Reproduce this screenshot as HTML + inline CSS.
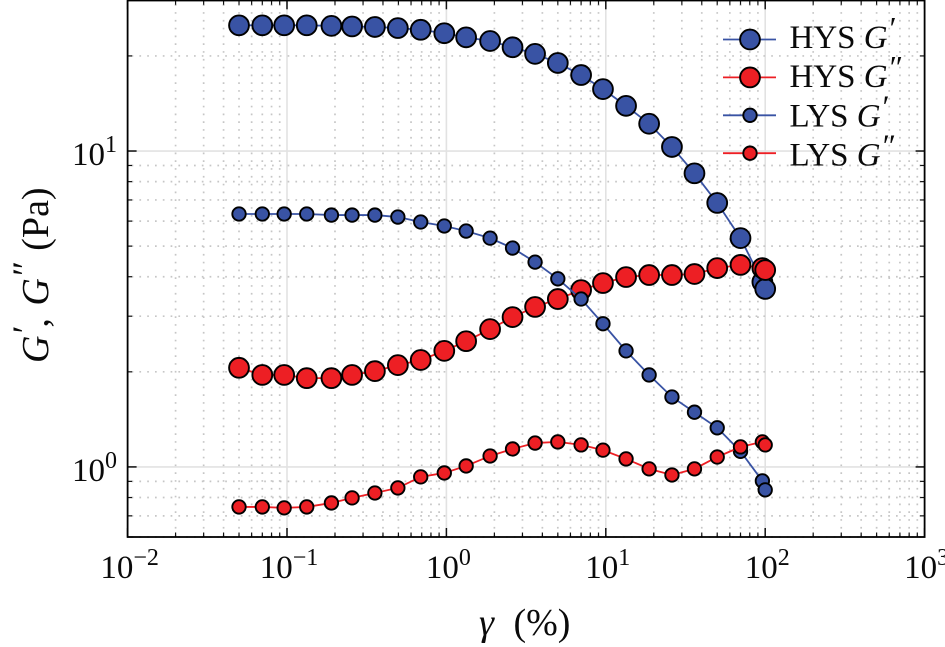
<!DOCTYPE html>
<html>
<head>
<meta charset="utf-8">
<title>Strain sweep chart</title>
<style>
html,body{margin:0;padding:0;background:#fff;width:945px;height:647px;overflow:hidden}
svg{display:block;font-family:"Liberation Serif",serif;fill:#000}
text{fill:#0a0a0a}
</style>
</head>
<body>
<svg id="chart" xmlns="http://www.w3.org/2000/svg" width="945" height="647" viewBox="0 0 945 647">
  <g id="grid"></g>
  <g id="series"></g>
  <g id="ticks"></g>
  <rect x="127.6" y="0.5" width="797" height="536.5" fill="none" stroke="#000" stroke-width="1.8"/>
  <g id="tick-labels"></g>
  <text transform="translate(48,363) rotate(-90)" font-size="38" word-spacing="3"><tspan font-style="italic">G</tspan><tspan font-style="italic" font-size="36" dy="-11">′</tspan><tspan dy="11">, </tspan><tspan font-style="italic">G</tspan><tspan font-style="italic" font-size="36" dy="-11">″</tspan><tspan dy="11"> (Pa)</tspan></text>
  <text x="479" y="635" font-size="38" word-spacing="10"><tspan font-style="italic">γ</tspan> (%)</text>
  <g id="legend"></g>
</svg>
<script>
const xDomain = [0.01, 1000];
const yDomain = [0.6, 30];
const xTickExponents = ["−2", "−1", "0", "1", "2", "3"];
const xTickDecades = [0.01, 0.1, 1, 10, 100, 1000];
const yTickExponents = ["0", "1"];
const yTickDecades = [1, 10];
const minorMultipliers = [2, 3, 4, 5, 6, 7, 8, 9];
const yMinorExtra = [0.6, 0.7, 0.8, 0.9];
const gamma = [0.05, 0.07, 0.096, 0.133, 0.19, 0.256, 0.356, 0.496, 0.69, 0.97, 1.33, 1.88, 2.6, 3.6, 5.0, 7.0, 9.6, 13.4, 18.7, 26, 36, 50, 70, 96, 100];
const hysGp = [25.0, 25.0, 25.0, 25.0, 24.9, 24.8, 24.7, 24.5, 24.2, 23.6, 22.9, 22.3, 21.3, 20.3, 19.0, 17.4, 15.7, 13.9, 12.2, 10.3, 8.5, 6.85, 5.3, 3.85, 3.66];
const hysGpp = [2.06, 1.955, 1.955, 1.91, 1.91, 1.955, 2.01, 2.10, 2.18, 2.33, 2.50, 2.73, 2.98, 3.21, 3.40, 3.63, 3.82, 3.99, 4.05, 4.05, 4.08, 4.26, 4.36, 4.26, 4.20];
const lysGp = [6.32, 6.32, 6.32, 6.32, 6.27, 6.27, 6.27, 6.18, 5.96, 5.79, 5.58, 5.30, 4.93, 4.45, 3.94, 3.40, 2.84, 2.33, 1.955, 1.665, 1.49, 1.33, 1.12, 0.903, 0.846];
const lysGpp = [0.747, 0.747, 0.742, 0.747, 0.769, 0.798, 0.827, 0.858, 0.930, 0.957, 1.007, 1.083, 1.14, 1.19, 1.20, 1.174, 1.13, 1.06, 0.986, 0.943, 0.986, 1.075, 1.157, 1.20, 1.174];

const NS = 'http://www.w3.org/2000/svg';
const L = 127.6, R = 924.6, T = 0.3, B = 537;
const BLUE = '#3953a4', RED = '#ed1f24';

function xPos(v) {
  return L + (Math.log10(v) - Math.log10(xDomain[0])) / (Math.log10(xDomain[1]) - Math.log10(xDomain[0])) * (R - L);
}
function yPos(v) {
  return B - (Math.log10(v) - Math.log10(yDomain[0])) / (Math.log10(yDomain[1]) - Math.log10(yDomain[0])) * (B - T);
}
function make(tag, attrs, parent) {
  const el = document.createElementNS(NS, tag);
  for (const k in attrs) el.setAttribute(k, attrs[k]);
  parent.appendChild(el);
  return el;
}

const gridG = document.getElementById('grid');
const ticksG = document.getElementById('ticks');
const labelsG = document.getElementById('tick-labels');
const seriesG = document.getElementById('series');
const legendG = document.getElementById('legend');

function minorLine(x1, y1, x2, y2) {
  const ln = make('line', {x1: x1, y1: y1, x2: x2, y2: y2, stroke: '#c6c6c6', 'stroke-width': 1.7, 'stroke-dasharray': '1.7 6.1'}, gridG);
  
  
}
function majorLine(x1, y1, x2, y2) {
  const ln = make('line', {x1: x1, y1: y1, x2: x2, y2: y2, stroke: '#e2e2e2', 'stroke-width': 1.6}, gridG);
  
  
}
function tick(x1, y1, x2, y2, sw) {
  const ln = make('line', {x1: x1, y1: y1, x2: x2, y2: y2, stroke: '#111', 'stroke-width': sw}, ticksG);
  
  
}
function tickLabel(x, y, anchor, exp, name) {
  const t = make('text', {x: x, y: y, 'font-size': 33, 'text-anchor': anchor}, labelsG);
  
  
  const a = make('tspan', {}, t);
  a.textContent = '10';
  const b = make('tspan', {'font-size': 24, dy: -13}, t);
  b.textContent = exp;
}

xTickDecades.forEach(function (d, i) {
  const x = xPos(d);
  if (i > 0 && i < xTickDecades.length - 1) majorLine(x, T, x, B);
  tick(x, B, x, B - 9, 1.5);
  tick(x, T, x, T + 9, 1.5);
  tickLabel(x + 2, 578, 'middle', xTickExponents[i], 'x-tick-label');
  if (i < xTickDecades.length - 1) {
    minorMultipliers.forEach(function (m) {
      const xm = xPos(d * m);
      minorLine(xm, T + 4, xm, B);
      tick(xm, B, xm, B - 4.5, 1.2);
      tick(xm, T, xm, T + 4.5, 1.2);
    });
  }
});

yMinorExtra.concat(minorMultipliers, minorMultipliers.map(function (m) { return m * 10; })).forEach(function (v) {
  if (v >= yDomain[1]) return;
  const y = yPos(v);
  minorLine(L + 4, y, R, y);
  tick(L, y, L + 4.5, y, 1.2);
  tick(R, y, R - 4.5, y, 1.2);
});
yTickDecades.forEach(function (d, i) {
  const y = yPos(d);
  majorLine(L, y, R, y);
  tick(L, y, L + 9, y, 1.5);
  tick(R, y, R - 9, y, 1.5);
  tickLabel(72, y + 14, 'start', yTickExponents[i], 'y-tick-label');
});

function drawSeries(values, color, r, name) {
  const g = make('g', {}, seriesG);
  
  
  const pts = values.map(function (v, i) { return xPos(gamma[i]).toFixed(2) + ',' + yPos(v).toFixed(2); }).join(' ');
  const pl = make('polyline', {points: pts, fill: 'none', stroke: color, 'stroke-width': 1.8}, g);
  
  
  values.forEach(function (v, i) {
    const c = make('circle', {cx: xPos(gamma[i]), cy: yPos(v), r: r, fill: color, stroke: '#000', 'stroke-width': 1.9}, g);
    
    
  });
}
drawSeries(hysGp, BLUE, 9.9, 'hys-g-prime');
drawSeries(hysGpp, RED, 9.9, 'hys-g-double-prime');
drawSeries(lysGp, BLUE, 6.7, 'lys-g-prime');
drawSeries(lysGpp, RED, 6.7, 'lys-g-double-prime');

const legendNames = ['HYS', 'HYS', 'LYS', 'LYS'];
const legendPrimes = ['′', '″', '′', '″'];
const legendColors = [BLUE, RED, BLUE, RED];
const legendRadii = [9.9, 9.9, 6.7, 6.7];
legendNames.forEach(function (nm, i) {
  const rowY = 39.5 + i * 37.9;
  const g = make('g', {}, legendG);
  
  
  const ln = make('line', {x1: 723, x2: 776, y1: rowY, y2: rowY, stroke: legendColors[i], 'stroke-width': 1.8}, g);
  
  
  const c = make('circle', {cx: 750, cy: rowY, r: legendRadii[i], fill: legendColors[i], stroke: '#000', 'stroke-width': 1.9}, g);
  
  
  const t = make('text', {x: 789.5, y: 48 + i * 39.2, 'font-size': 33}, g);
  
  
  const a = make('tspan', {}, t);
  a.textContent = nm + ' ';
  const b = make('tspan', {'font-style': 'italic'}, t);
  b.textContent = 'G';
  const p = make('tspan', {'font-style': 'italic', 'font-size': 32, dy: -9}, t);
  p.textContent = legendPrimes[i];
});
</script>
</body>
</html>
